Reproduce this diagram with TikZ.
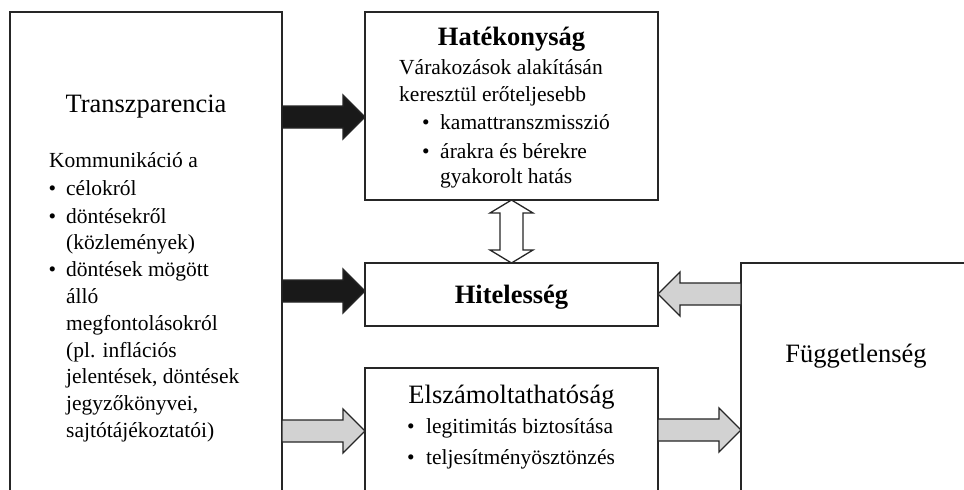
\documentclass[tikz,border=0pt]{standalone}
\usepackage{fontspec}
\setmainfont{Liberation Serif}
\usetikzlibrary{calc}
\tikzset{
  box/.style={draw=black!85, line width=1.3pt, rectangle, inner sep=0pt, outer sep=0pt},
  arrowline/.style={draw=black!85, line width=1.3pt, line join=miter},
  body/.style={font=\fontsize{21.5}{26}\selectfont, inner sep=0pt, anchor=base west},
  ttl/.style={font=\fontsize{26.5}{30}\selectfont, inner sep=0pt, anchor=base},
  bttl/.style={font=\fontsize{26.5}{30}\selectfont\bfseries, inner sep=0pt, anchor=base},
}
% horizontal block arrow: #1 from, #2 to, #3 y (px), #4 fill
\newcommand\fatarrow[4]{%
  \filldraw[arrowline, fill=#4] let \p1=(#1), \p2=(#2), \n1={sign(\x2-\x1)} in
    ({\x1},{-#3pt+11pt}) -- ({\x2-\n1*22pt},{-#3pt+11pt}) -- ({\x2-\n1*22pt},{-#3pt+22pt})
    -- ({\x2},{-#3pt}) -- ({\x2-\n1*22pt},{-#3pt-22pt}) -- ({\x2-\n1*22pt},{-#3pt-11pt})
    -- ({\x1},{-#3pt-11pt}) -- cycle;}
\begin{document}
\begin{tikzpicture}[x=1pt,y=-1pt]
\useasboundingbox (0,0) rectangle (964,490);
\clip (0,0) rectangle (964,490);
\fill[white] (0,0) rectangle (964,490);
% boxes
\node[box, minimum width=272pt, minimum height=508pt] (trans) at (146,266) {};
\node[box, minimum width=293pt, minimum height=188pt] (hat) at (511.5,106) {};
\node[box, minimum width=293pt, minimum height=63pt] (hit) at (511.5,294.5) {};
\node[box, minimum width=293pt, minimum height=152pt] (elsz) at (511.5,444) {};
\node[box, minimum width=360pt, minimum height=257pt] (fugg) at (921,391.5) {};
% arrows
\fatarrow{trans.east}{hat.west}{117}{black!90}
\fatarrow{trans.east}{hit.west}{291}{black!90}
\fatarrow{trans.east}{elsz.west}{431}{gray!35}
\fatarrow{fugg.west}{hit.east}{294}{gray!35}
\fatarrow{elsz.east}{fugg.west}{430}{gray!35}
\filldraw[arrowline, fill=white] let \p1=(hat.south), \p2=(hit.north) in
  ({\x1},{\y1}) -- ({\x1-21.5pt},{\y1-13pt}) -- ({\x1-11.5pt},{\y1-13pt})
  -- ({\x1-11.5pt},{\y2+13pt}) -- ({\x1-21.5pt},{\y2+13pt}) -- ({\x1},{\y2})
  -- ({\x1+21.5pt},{\y2+13pt}) -- ({\x1+11.5pt},{\y2+13pt})
  -- ({\x1+11.5pt},{\y1-13pt}) -- ({\x1+21.5pt},{\y1-13pt}) -- cycle;
% left box text
\node[ttl] (transT) at (146,112) {Transzparencia};
\node[body] (l0) at (49,167) {Kommunikáció a};
\node[body] (b1) at (48.5,195) {•};
\node[body] (l1) at (66,195) {célokról};
\node[body] (b2) at (48.5,223) {•};
\node[body] (l2) at (66,223) {döntésekről};
\node[body] (l3) at (66,249) {(közlemények)};
\node[body] (b3) at (48.5,276) {•};
\node[body] (l4) at (66,276) {döntések mögött};
\node[body] (l5) at (66,303) {álló};
\node[body] (l6) at (66,330) {megfontolásokról};
\node[body] (l7) at (66,357) {(pl. inflációs};
\node[body] (l8) at (66,383) {jelentések, döntések};
\node[body] (l9) at (66,410) {jegyzőkönyvei,};
\node[body] (l10) at (66,437) {sajtótájékoztatói)};
% Hatékonyság
\node[bttl] (hatT) at (511.5,45) {Hatékonyság};
\node[body] (h1) at (399,74) {Várakozások alakításán};
\node[body] (h2) at (399,101) {keresztül erőteljesebb};
\node[body] (hb1) at (422,129) {•};
\node[body] (h3) at (440,129) {kamattranszmisszió};
\node[body] (hb2) at (422,158) {•};
\node[body] (h4) at (440,158) {árakra és bérekre};
\node[body] (h5) at (440,183) {gyakorolt hatás};
% Hitelesség
\node[bttl] (hitT) at (511.5,303) {Hitelesség};
% Elszámoltathatóság
\node[ttl] (elszT) at (511.5,403) {Elszámoltathatóság};
\node[body] (eb1) at (407,433) {•};
\node[body] (e1) at (426,433) {legitimitás biztosítása};
\node[body] (eb2) at (407,464) {•};
\node[body] (e2) at (426,464) {teljesítményösztönzés};
% Függetlenség
\node[ttl] (fuggT) at (856,362) {Függetlenség};
\end{tikzpicture}
\end{document}
